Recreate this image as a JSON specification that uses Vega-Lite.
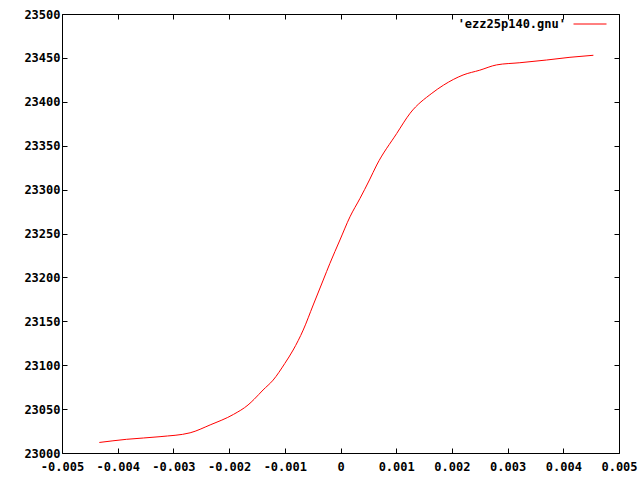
{
  "$schema": "https://vega.github.io/schema/vega-lite/v6.json",
  "width": 557,
  "height": 439,
  "autosize": {"type": "none"},
  "padding": {"left": 62, "top": 14, "right": 21, "bottom": 27},
  "background": "white",
  "config": {
    "view": {"stroke": "black", "strokeWidth": 1},
    "axis": {
      "domain": false,
      "grid": false,
      "tickColor": "black",
      "tickSize": -5,
      "tickWidth": 1,
      "labelFont": "DejaVu Sans Mono",
      "labelFontWeight": "bold",
      "labelFontSize": 12,
      "labelColor": "black",
      "title": null
    }
  },
  "data": {
    "values": [
      {"x": -0.00433, "y": 23012, "series": "'ezz25p140.gnu'"},
      {"x": -0.00384, "y": 23015.6, "series": "'ezz25p140.gnu'"},
      {"x": -0.00324, "y": 23018.6, "series": "'ezz25p140.gnu'"},
      {"x": -0.0027, "y": 23023, "series": "'ezz25p140.gnu'"},
      {"x": -0.00234, "y": 23032, "series": "'ezz25p140.gnu'"},
      {"x": -0.00192, "y": 23044, "series": "'ezz25p140.gnu'"},
      {"x": -0.00166, "y": 23054.7, "series": "'ezz25p140.gnu'"},
      {"x": -0.00155, "y": 23061.2, "series": "'ezz25p140.gnu'"},
      {"x": -0.00139, "y": 23071.8, "series": "'ezz25p140.gnu'"},
      {"x": -0.00121, "y": 23083, "series": "'ezz25p140.gnu'"},
      {"x": -0.001, "y": 23102, "series": "'ezz25p140.gnu'"},
      {"x": -0.00085, "y": 23117.3, "series": "'ezz25p140.gnu'"},
      {"x": -0.00067, "y": 23140, "series": "'ezz25p140.gnu'"},
      {"x": -0.00049, "y": 23168.6, "series": "'ezz25p140.gnu'"},
      {"x": -0.00031, "y": 23197, "series": "'ezz25p140.gnu'"},
      {"x": -0.00019, "y": 23216, "series": "'ezz25p140.gnu'"},
      {"x": -0.00001, "y": 23242.6, "series": "'ezz25p140.gnu'"},
      {"x": 0.00017, "y": 23269, "series": "'ezz25p140.gnu'"},
      {"x": 0.00035, "y": 23290, "series": "'ezz25p140.gnu'"},
      {"x": 0.00052, "y": 23311, "series": "'ezz25p140.gnu'"},
      {"x": 0.00065, "y": 23328, "series": "'ezz25p140.gnu'"},
      {"x": 0.00101, "y": 23364, "series": "'ezz25p140.gnu'"},
      {"x": 0.00125, "y": 23387, "series": "'ezz25p140.gnu'"},
      {"x": 0.00164, "y": 23409.7, "series": "'ezz25p140.gnu'"},
      {"x": 0.00185, "y": 23419, "series": "'ezz25p140.gnu'"},
      {"x": 0.0022, "y": 23430.5, "series": "'ezz25p140.gnu'"},
      {"x": 0.0025, "y": 23436, "series": "'ezz25p140.gnu'"},
      {"x": 0.0028, "y": 23442, "series": "'ezz25p140.gnu'"},
      {"x": 0.00322, "y": 23444.5, "series": "'ezz25p140.gnu'"},
      {"x": 0.0037, "y": 23447.6, "series": "'ezz25p140.gnu'"},
      {"x": 0.00412, "y": 23450.7, "series": "'ezz25p140.gnu'"},
      {"x": 0.00454, "y": 23453, "series": "'ezz25p140.gnu'"}
    ]
  },
  "resolve": {"axis": {"x": "independent", "y": "independent"}},
  "layer": [
    {
      "mark": {"type": "line", "strokeWidth": 1, "interpolate": "monotone"},
      "encoding": {
        "x": {
          "field": "x", "type": "quantitative",
          "scale": {"domain": [-0.005, 0.005], "nice": false, "zero": false},
          "axis": {
            "orient": "bottom",
            "values": [-0.005, -0.004, -0.003, -0.002, -0.001, 0, 0.001, 0.002, 0.003, 0.004, 0.005],
            "labelExpr": "datum.value == 0 ? '0' : replace(format(datum.value, '.3f'), '\u2212', '-')",
            "labelPadding": 13,
            "labelFlush": false,
            "labelOverlap": false
          }
        },
        "y": {
          "field": "y", "type": "quantitative",
          "scale": {"domain": [23000, 23500], "nice": false, "zero": false},
          "axis": {
            "orient": "left",
            "values": [23000, 23050, 23100, 23150, 23200, 23250, 23300, 23350, 23400, 23450, 23500],
            "format": "d",
            "labelPadding": 7,
            "labelOverlap": false
          }
        },
        "color": {
          "field": "series", "type": "nominal",
          "scale": {"range": ["#ff0000"]},
          "legend": {
            "title": null,
            "orient": "none",
            "legendX": 511,
            "legendY": -7,
            "padding": 0,
            "symbolType": "stroke",
            "symbolSize": 1089,
            "symbolStrokeWidth": 1,
            "symbolStrokeColor": "#ff0000",
            "labelAlign": "right",
            "labelOffset": -41,
            "labelFont": "DejaVu Sans Mono",
            "labelFontWeight": "bold",
            "labelFontSize": 12,
            "labelColor": "black",
            "labelLimit": 0
          }
        }
      }
    },
    {
      "mark": {"type": "line", "strokeOpacity": 0},
      "encoding": {
        "x": {
          "field": "x", "type": "quantitative",
          "axis": {
            "orient": "top",
            "values": [-0.005, -0.004, -0.003, -0.002, -0.001, 0, 0.001, 0.002, 0.003, 0.004, 0.005],
            "labels": false
          }
        },
        "y": {
          "field": "y", "type": "quantitative",
          "axis": {
            "orient": "right",
            "values": [23000, 23050, 23100, 23150, 23200, 23250, 23300, 23350, 23400, 23450, 23500],
            "labels": false
          }
        }
      }
    }
  ]
}
